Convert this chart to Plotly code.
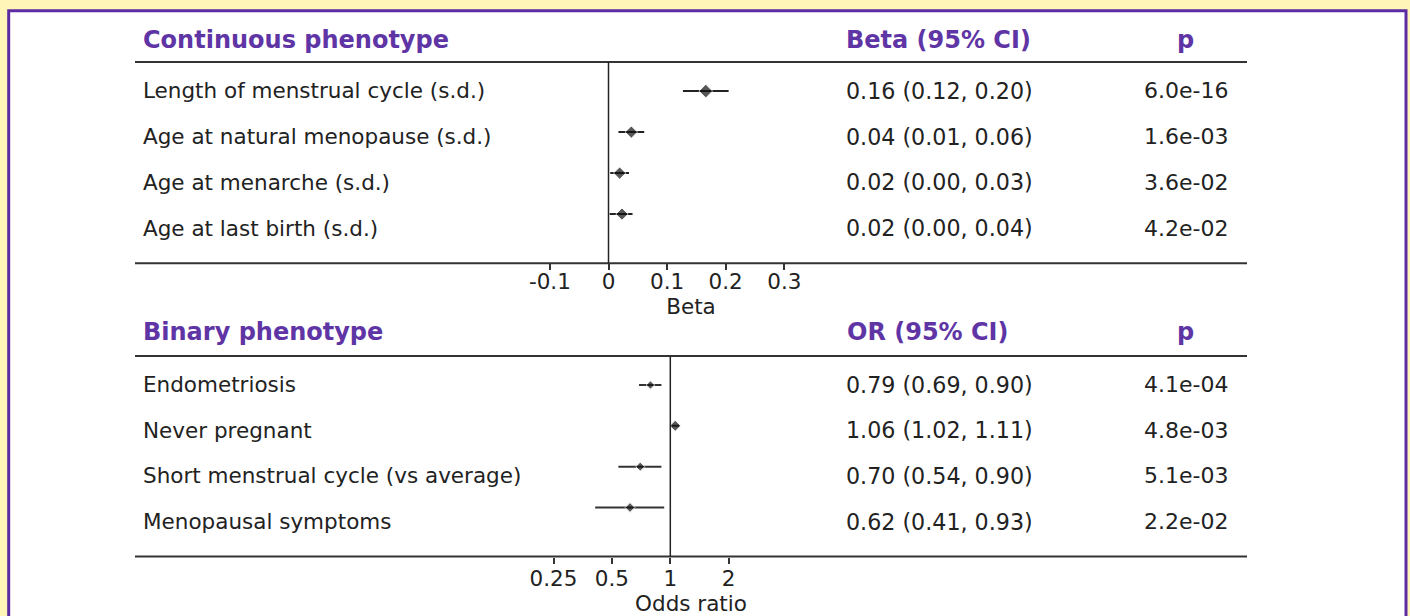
import plotly.graph_objects as go

W, H = 1410, 616

# ---------------- data ----------------
cont_labels = ["Length of menstrual cycle (s.d.)", "Age at natural menopause (s.d.)",
               "Age at menarche (s.d.)", "Age at last birth (s.d.)"]
cont_beta = [0.166, 0.039, 0.019, 0.023]
cont_lo = [0.127, 0.017, 0.003, 0.002]
cont_hi = [0.205, 0.061, 0.035, 0.041]
cont_ci_text = ["0.16 (0.12, 0.20)", "0.04 (0.01, 0.06)", "0.02 (0.00, 0.03)", "0.02 (0.00, 0.04)"]
cont_p = ["6.0e-16", "1.6e-03", "3.6e-02", "4.2e-02"]

bin_labels = ["Endometriosis", "Never pregnant", "Short menstrual cycle (vs average)", "Menopausal symptoms"]
bin_or = [0.79, 1.06, 0.70, 0.62]
bin_lo = [0.69, 1.02, 0.54, 0.41]
bin_hi = [0.90, 1.11, 0.90, 0.93]
bin_ci_text = ["0.79 (0.69, 0.90)", "1.06 (1.02, 1.11)", "0.70 (0.54, 0.90)", "0.62 (0.41, 0.93)"]
bin_p = ["4.1e-04", "4.8e-03", "5.1e-03", "2.2e-02"]

beta_ticks = [-0.1, 0, 0.1, 0.2, 0.3]
beta_tick_text = ["-0.1", "0", "0.1", "0.2", "0.3"]
or_ticks = [0.25, 0.5, 1, 2]
or_tick_text = ["0.25", "0.5", "1", "2"]

# ---------------- styles ----------------
cont_sizes = [10.5, 9.5, 9.5, 9.5]
bin_sizes = [6.5, 8.5, 7, 7.5]
FONT = "DejaVu Sans"
PURPLE = "#5F35A6"
TXT = "#222222"
LINE = "#333333"
YELLOW = "#FFF5B9"


def px(x):
    return x / W


def py(y):
    return 1 - y / H


fig = go.Figure()

rows = list(range(4))

fig.add_trace(go.Scatter(
    x=cont_beta, y=rows, mode="markers", xaxis="x", yaxis="y",
    marker=dict(symbol="diamond", size=cont_sizes, color="#111111"),
    error_x=dict(type="data", symmetric=False,
                 array=[h - b for h, b in zip(cont_hi, cont_beta)],
                 arrayminus=[b - l for b, l in zip(cont_beta, cont_lo)],
                 thickness=2, width=0, color="#222222"),
    showlegend=False, hoverinfo="skip"))

fig.add_trace(go.Scatter(
    x=bin_or, y=rows, mode="markers", xaxis="x2", yaxis="y2",
    marker=dict(symbol="diamond", size=bin_sizes, color="#111111"),
    error_x=dict(type="data", symmetric=False,
                 array=[h - b for h, b in zip(bin_hi, bin_or)],
                 arrayminus=[b - l for b, l in zip(bin_or, bin_lo)],
                 thickness=2, width=0, color="#333333"),
    showlegend=False, hoverinfo="skip"))

XL, XR = 135, 1247
beta_zero_px, beta_scale = 608.5, 586.0
or_one_px, or_scale = 670.3, 194.0

axis_common = dict(showgrid=False, showline=False, zeroline=False,
                   ticks="outside", ticklen=6, tickwidth=1.5, tickcolor=LINE,
                   tickfont=dict(family=FONT, size=21.5, color=TXT),
                   domain=[px(XL), px(XR)])

fig.update_layout(
    width=W, height=H,
    margin=dict(l=0, r=0, t=0, b=0),
    paper_bgcolor=YELLOW, plot_bgcolor="rgba(0,0,0,0)",
    font=dict(family=FONT, color=TXT),
    xaxis=dict(**axis_common,
               range=[(XL - beta_zero_px) / beta_scale, (XR - beta_zero_px) / beta_scale],
               tickvals=beta_ticks, ticktext=beta_tick_text, ticklabelstandoff=-7,
               title=dict(text="Beta", font=dict(family=FONT, size=21.5, color=TXT), standoff=3),
               anchor="y"),
    yaxis=dict(domain=[py(263.3), py(62)], range=[4.2, -0.71], visible=False, anchor="x"),
    xaxis2=dict(**axis_common, type="log",
                range=[(XL - or_one_px) / or_scale, (XR - or_one_px) / or_scale],
                tickvals=or_ticks, ticktext=or_tick_text, ticklabelstandoff=-3,
                title=dict(text="Odds ratio", font=dict(family=FONT, size=21.5, color=TXT), standoff=5),
                anchor="y2"),
    yaxis2=dict(domain=[py(556.5), py(356)], range=[4.2, -0.71], visible=False, anchor="x2"),
)

shapes = []
# frame
shapes.append(dict(type="rect", xref="paper", yref="paper", x0=px(8.7), x1=px(1406),
                   y0=-0.2, y1=py(10.7), fillcolor="white",
                   line=dict(color="#5B2CA3", width=3), layer="below"))
# horizontal rules
for yy in [62, 263.3, 356, 556.5]:
    shapes.append(dict(type="line", xref="paper", yref="paper", x0=px(XL), x1=px(XR),
                       y0=py(yy), y1=py(yy), line=dict(color=LINE, width=2)))
# reference lines
shapes.append(dict(type="line", xref="x", yref="y domain", x0=0, x1=0, y0=0, y1=1,
                   line=dict(color="#222222", width=1.5)))
shapes.append(dict(type="line", xref="x2", yref="y2 domain", x0=1, x1=1, y0=0, y1=1,
                   line=dict(color="#222222", width=1.5)))
fig.update_layout(shapes=shapes)

ann = []


def text(x, y, s, anchor="left", size=21.5, color=TXT, bold=False):
    ann.append(dict(x=px(x), y=py(y), xref="paper", yref="paper", text=("<b>%s</b>" % s) if bold else s,
                    showarrow=False, xanchor=anchor, yanchor="middle",
                    font=dict(family=FONT, size=size, color=color)))


HDR = 24
text(141, 40, "Continuous phenotype", bold=True, size=HDR, color=PURPLE)
text(938.5, 40, "Beta (95% CI)", anchor="center", bold=True, size=HDR, color=PURPLE)
text(1185, 40, "p", anchor="center", bold=True, size=HDR, color=PURPLE)
text(141, 332, "Binary phenotype", bold=True, size=HDR, color=PURPLE)
text(927.5, 332, "OR (95% CI)", anchor="center", bold=True, size=HDR, color=PURPLE)
text(1185, 332, "p", anchor="center", bold=True, size=HDR, color=PURPLE)

for i in range(4):
    yt = 91 + 45.7 * i
    text(141, yt, cont_labels[i])
    text(939.5, yt, cont_ci_text[i], anchor="center", size=22.2)
    text(1186, yt, cont_p[i], anchor="center", size=22)
    yb = 384.5 + 45.7 * i
    text(141, yb, bin_labels[i])
    text(939.5, yb, bin_ci_text[i], anchor="center", size=22.2)
    text(1186, yb, bin_p[i], anchor="center", size=22)

fig.update_layout(annotations=ann)

fig.write_html("out.html", config={"displayModeBar": False},
               post_script="document.body.style.margin='0';document.body.style.overflow='hidden';")
